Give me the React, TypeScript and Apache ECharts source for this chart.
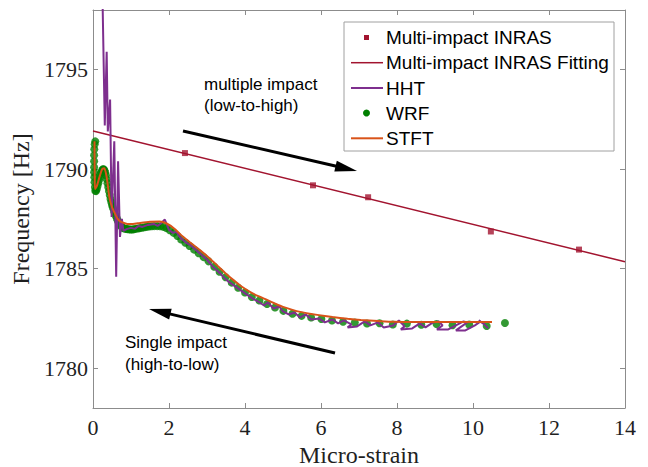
import React, { useEffect, useRef } from "react";
import * as echarts from "echarts";

const yTickValues = [1780, 1785, 1790, 1795];

const inrasX = [2.42, 5.79, 7.24, 10.47, 12.79];
const inrasY = [1790.81, 1789.19, 1788.59, 1786.87, 1785.96];

const fitX = [0, 14];
const fitY = [1791.92, 1785.35];

const stftX = [0.04, 0.04, 0.045, 0.05, 0.1, 0.17, 0.24, 0.3, 0.36, 0.43, 0.5, 0.57, 0.65, 0.74, 0.9, 1.05, 1.24, 1.5, 1.75, 1.95, 2.15, 2.37, 2.6, 2.82, 3.05, 3.26, 3.47, 3.68, 3.9, 4.13, 4.35, 4.58, 4.8, 5.0, 5.25, 5.45, 5.7, 5.9, 6.3, 6.7, 7.05, 7.5, 7.9, 8.5, 9.0, 9.5, 10.0, 10.5];
const stftY = [1791.4, 1790.8, 1789.8, 1789.0, 1789.15, 1789.6, 1790.0, 1790.05, 1789.6, 1788.6, 1788.1, 1787.8, 1787.5, 1787.35, 1787.25, 1787.24, 1787.3, 1787.36, 1787.37, 1787.26, 1787.0, 1786.6, 1786.25, 1785.92, 1785.55, 1785.18, 1784.8, 1784.45, 1784.12, 1783.84, 1783.62, 1783.43, 1783.24, 1783.08, 1782.93, 1782.83, 1782.74, 1782.68, 1782.57, 1782.48, 1782.42, 1782.37, 1782.33, 1782.32, 1782.32, 1782.32, 1782.32, 1782.32];

const hhtX = [0.25, 0.31, 0.36, 0.39, 0.45, 0.49, 0.56, 0.61, 0.66, 0.71, 0.76, 0.8, 0.9, 1.0, 1.1, 1.2, 1.3, 1.45, 1.6, 1.7, 1.8, 1.89, 2.0, 2.1, 2.2, 2.3, 2.45, 2.55, 2.7, 2.85, 3.0, 3.15, 3.3, 3.45, 3.6, 3.75, 3.9, 4.05, 4.2, 4.35, 4.5, 4.6, 4.75, 4.9, 5.0, 5.15, 5.3, 5.45, 5.6, 5.75, 5.95, 6.1, 6.3, 6.45, 6.6, 6.8, 6.7, 6.95, 7.15, 7.3, 7.5, 7.65, 7.9, 8.05, 8.2, 8.1, 8.4, 8.6, 8.75, 8.95, 9.1, 9.2, 9.05, 9.35, 9.6, 9.75, 9.85, 9.7, 9.55, 9.8, 10.05, 10.2, 10.15, 10.3, 10.4];
const hhtY = [1798.6, 1792.2, 1795.9, 1791.9, 1793.5, 1787.6, 1791.4, 1784.6, 1790.4, 1786.6, 1787.5, 1786.9, 1787.0, 1787.05, 1787.0, 1787.15, 1787.1, 1787.2, 1787.25, 1787.15, 1787.3, 1787.47, 1786.95, 1786.8, 1786.85, 1786.55, 1786.3, 1786.2, 1785.95, 1785.7, 1785.45, 1785.1, 1784.85, 1784.55, 1784.3, 1784.1, 1783.9, 1783.7, 1783.5, 1783.35, 1783.15, 1783.3, 1783.0, 1783.1, 1782.85, 1782.7, 1782.8, 1782.55, 1782.7, 1782.45, 1782.5, 1782.3, 1782.45, 1782.25, 1782.4, 1782.2, 1782.05, 1782.1, 1782.35, 1782.15, 1782.3, 1782.05, 1782.15, 1782.4, 1782.1, 1781.95, 1782.0, 1782.25, 1782.05, 1782.3, 1782.35, 1782.15, 1781.95, 1781.95, 1782.2, 1782.35, 1782.3, 1782.1, 1781.9, 1781.9, 1782.15, 1782.35, 1782.4, 1782.2, 1782.0];

const wrfX = [10.84, 10.36, 9.9, 9.46, 9.04, 8.64, 8.26, 7.89, 7.54, 7.21, 6.89, 6.58, 6.29, 6.01, 5.74, 5.49, 5.25, 5.01, 4.79, 4.58, 4.38, 4.18, 4.0, 3.82, 3.65, 3.49, 3.33, 3.19, 3.04, 2.91, 2.78, 2.66, 2.54, 2.43, 2.32, 2.22, 2.12, 2.02, 1.93, 1.85, 1.77, 1.69, 1.61, 1.54, 1.47, 1.41, 1.35, 1.29, 1.23, 1.18, 1.12, 1.07, 1.03, 0.98, 0.94, 0.9, 0.86, 0.82, 0.78, 0.75, 0.72, 0.68, 0.65, 0.63, 0.6, 0.57, 0.55, 0.52, 0.5, 0.48, 0.46, 0.44, 0.42, 0.4, 0.38, 0.36, 0.34, 0.32, 0.3, 0.28, 0.26, 0.24, 0.22, 0.2, 0.18, 0.16, 0.14, 0.12, 0.1, 0.08, 0.06, 0.05, 0.04, 0.035, 0.03, 0.03, 0.03, 0.03, 0.035, 0.045, 0.06];
const wrfY = [1782.27, 1782.12, 1782.2, 1782.16, 1782.22, 1782.18, 1782.24, 1782.2, 1782.26, 1782.25, 1782.3, 1782.33, 1782.4, 1782.47, 1782.55, 1782.63, 1782.74, 1782.88, 1783.05, 1783.23, 1783.4, 1783.58, 1783.8, 1784.04, 1784.3, 1784.57, 1784.85, 1785.1, 1785.37, 1785.58, 1785.78, 1785.96, 1786.14, 1786.3, 1786.47, 1786.64, 1786.8, 1786.93, 1787.04, 1787.1, 1787.13, 1787.14, 1787.14, 1787.13, 1787.12, 1787.1, 1787.08, 1787.06, 1787.04, 1787.02, 1787.0, 1786.98, 1786.97, 1786.97, 1786.98, 1786.99, 1787.0, 1787.02, 1787.06, 1787.12, 1787.2, 1787.3, 1787.42, 1787.52, 1787.65, 1787.8, 1787.92, 1788.08, 1788.2, 1788.35, 1788.5, 1788.7, 1788.9, 1789.1, 1789.3, 1789.5, 1789.7, 1789.85, 1789.95, 1790.0, 1790.0, 1789.95, 1789.85, 1789.75, 1789.6, 1789.45, 1789.3, 1789.15, 1789.0, 1788.9, 1788.92, 1789.1, 1789.35, 1789.6, 1789.85, 1790.1, 1790.4, 1790.7, 1791.0, 1791.25, 1791.4];

const legendNames = ["Multi-impact INRAS", "Multi-impact INRAS Fitting", "HHT", "WRF", "STFT"];

const C_RED = "#A2142F";
const C_PURPLE = "#7E2F8E";
const C_GREEN = "#008000";
const C_ORANGE = "#D95319";
const C_AXIS = "#8c8c8c";
const C_TEXT = "#1f1f1f";
const SERIF = "'Liberation Serif', 'Times New Roman', serif";
const SANS = "'Liberation Sans', Arial, sans-serif";

const zip = (xs: number[], ys: number[]) => xs.map((x, i) => [x, ys[i]]);

function arrow(x1: number, y1: number, x2: number, y2: number, headLen: number, halfW: number) {
  const dx = x2 - x1;
  const dy = y2 - y1;
  const L = Math.sqrt(dx * dx + dy * dy);
  const ux = dx / L;
  const uy = dy / L;
  const bx = x2 - ux * headLen;
  const by = y2 - uy * headLen;
  const px = -uy * halfW;
  const py = ux * halfW;
  return [
    {
      type: "line",
      shape: { x1, y1, x2: bx + ux * 2, y2: by + uy * 2 },
      style: { stroke: "#000", lineWidth: 3 },
      z: 100,
    },
    {
      type: "polygon",
      shape: { points: [[x2, y2], [bx + px, by + py], [bx - px, by - py]] },
      style: { fill: "#000" },
      z: 100,
    },
  ];
}

export default function App() {
  const ref = useRef<HTMLDivElement>(null);
  useEffect(() => {
    if (!ref.current) return;
    const chart = echarts.init(ref.current, null, { renderer: "svg" });

    const axisCommon = {
      type: "value",
      axisLine: { show: true, onZero: false, lineStyle: { color: C_AXIS, width: 1 } },
      axisTick: { show: true, inside: true, length: 5, lineStyle: { color: C_AXIS, width: 1 } },
      splitLine: { show: false },
    };

    const legendRows = [37.5, 62.7, 88, 113, 138.3];
    const lx = 344, ly = 22, lw = 270, lh = 129;
    const legendGraphics: any[] = [
      { type: "rect", shape: { x: lx, y: ly, width: lw, height: lh }, style: { fill: "#fff", stroke: "#a0a0a0", lineWidth: 1 }, z: 90 },
      { type: "rect", shape: { x: 364, y: legendRows[0] - 2.5, width: 5, height: 5 }, style: { fill: C_RED }, z: 91 },
      { type: "line", shape: { x1: 351, y1: legendRows[1], x2: 383, y2: legendRows[1] }, style: { stroke: C_RED, lineWidth: 1.5 }, z: 91 },
      { type: "line", shape: { x1: 351, y1: legendRows[2], x2: 383, y2: legendRows[2] }, style: { stroke: C_PURPLE, lineWidth: 2 }, z: 91 },
      { type: "circle", shape: { cx: 366.5, cy: legendRows[3], r: 3.5 }, style: { fill: C_GREEN }, z: 91 },
      { type: "line", shape: { x1: 351, y1: legendRows[4], x2: 383, y2: legendRows[4] }, style: { stroke: C_ORANGE, lineWidth: 2 }, z: 91 },
    ];
    legendNames.forEach((n, i) => {
      legendGraphics.push({
        type: "text",
        x: 386,
        y: legendRows[i],
        style: { text: n, fill: "#000", font: `19px ${SANS}`, verticalAlign: "middle" },
        z: 92,
      });
    });

    const annot: any[] = [
      { type: "text", x: 204, y: 74, style: { text: "multiple impact\n(low-to-high)", fill: "#000", font: `17px ${SANS}`, lineHeight: 21 }, z: 100 },
      { type: "text", x: 125, y: 331, style: { text: "Single impact\n(high-to-low)", fill: "#000", font: `17px ${SANS}`, lineHeight: 22 }, z: 100 },
      ...arrow(183, 131, 357, 171, 22, 5.5),
      ...arrow(335, 353, 149, 309, 22, 5.5),
    ];

    chart.setOption({
      animation: false,
      backgroundColor: "#fff",
      grid: { left: 93, right: 23, top: 10, bottom: 59, outerBoundsMode: "none" },
      xAxis: [
        {
          ...axisCommon,
          position: "bottom",
          min: 0,
          max: 14,
          interval: 2,
          axisLabel: { color: C_TEXT, fontFamily: SERIF, fontSize: 22, margin: 8, showMinLabel: true, showMaxLabel: true },
          name: "Micro-strain",
          nameLocation: "middle",
          nameGap: 31,
          nameTextStyle: { color: C_TEXT, fontFamily: SERIF, fontSize: 24 },
        },
        {
          ...axisCommon,
          position: "top",
          min: 0,
          max: 14,
          interval: 2,
          axisLabel: { show: false },
        },
      ],
      yAxis: [
        {
          ...axisCommon,
          position: "left",
          min: 1778,
          max: 1798,
          axisTick: { ...axisCommon.axisTick, customValues: yTickValues },
          axisLabel: {
            color: C_TEXT,
            fontFamily: SERIF,
            fontSize: 22,
            margin: 5,
            customValues: yTickValues,
            formatter: (v: number) => String(v),
          },
          name: "Frequency [Hz]",
          nameLocation: "middle",
          nameGap: 48,
          nameTextStyle: { color: C_TEXT, fontFamily: SERIF, fontSize: 24 },
        },
        {
          ...axisCommon,
          position: "right",
          min: 1778,
          max: 1798,
          axisTick: { ...axisCommon.axisTick, customValues: yTickValues },
          axisLabel: { show: false, customValues: yTickValues },
        },
      ],
      series: [
        {
          name: legendNames[1],
          type: "line",
          data: zip(fitX, fitY),
          showSymbol: false,
          symbol: "none",
          lineStyle: { color: C_RED, width: 1.5 },
          z: 2,
        },
        {
          name: legendNames[0],
          type: "scatter",
          data: zip(inrasX, inrasY),
          symbol: "rect",
          symbolSize: 6,
          itemStyle: { color: C_RED },
          z: 3,
        },
        {
          name: legendNames[3],
          type: "scatter",
          data: zip(wrfX, wrfY),
          symbol: "circle",
          symbolSize: 8,
          itemStyle: { color: C_GREEN },
          z: 4,
        },
        {
          name: legendNames[2],
          type: "line",
          data: zip(hhtX, hhtY),
          showSymbol: false,
          symbol: "none",
          lineStyle: { color: C_PURPLE, width: 2 },
          z: 5,
        },
        {
          name: legendNames[4],
          type: "line",
          data: zip(stftX, stftY),
          showSymbol: false,
          symbol: "none",
          smooth: 0.2,
          lineStyle: { color: C_ORANGE, width: 2 },
          z: 6,
        },
      ],
      graphic: [...legendGraphics, ...annot],
    });
    return () => chart.dispose();
  }, []);
  return <div ref={ref} style={{ position: "fixed", left: 0, top: 0, width: 648, height: 467 }} />;
}
